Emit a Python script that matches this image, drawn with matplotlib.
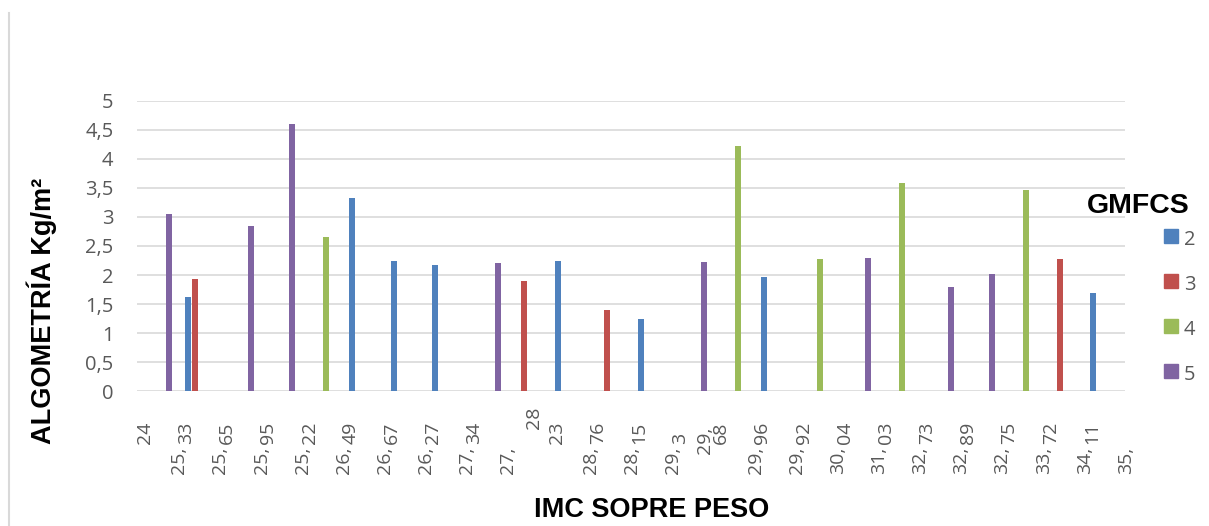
import matplotlib
matplotlib.use("Agg")
import matplotlib.pyplot as plt
import numpy as np
from matplotlib.patches import Rectangle
from matplotlib.lines import Line2D

# Category labels along the x axis (BMI values), one per category boundary
bmi_labels = ["24", "25,33", "25,65", "25,95", "25,22", "26,49", "26,67", "26,27",
              "27,34", "27,28", "23", "28,76", "28,15", "29,3", "29,68", "29,96",
              "29,92", "30,04", "31,03", "32,73", "32,89", "32,75", "33,72", "34,11", "35,"]

# Grip strength per GMFCS level (None = no value in that category)
series_names = ["2", "3", "4", "5"]
gmfcs_2 = [None, 1.62, None, None, None, 3.33, 2.24, 2.17, None, None, 2.24, None,
           1.25, None, None, 1.97, None, None, None, None, None, None, None, 1.69]
gmfcs_3 = [None, 1.93, None, None, None, None, None, None, None, 1.90, None, 1.40,
           None, None, None, None, None, None, None, None, None, None, 2.28, None]
gmfcs_4 = [None, None, None, None, 2.65, None, None, None, None, None, None, None,
           None, None, 4.22, None, 2.28, None, 3.58, None, None, 3.46, None, None]
gmfcs_5 = [3.05, None, 2.84, 4.60, None, None, None, None, 2.21, None, None, None,
           None, 2.22, None, None, None, 2.29, None, 1.79, 2.02, None, None, None]

y_ticks = [0, 0.5, 1, 1.5, 2, 2.5, 3, 3.5, 4, 4.5, 5]

colors = ["#4F81BD", "#C0504D", "#9BBB59", "#8064A2"]
GRAY_TXT = "#595959"
GRID = "#D9D9D9"
NUM_FONT = "Open Sans"
BOLD_FONT = "Liberation Sans"

W, H = 1209, 526
fig = plt.figure(figsize=(W / 100, H / 100), dpi=100)
fig.patch.set_facecolor("white")


def fx(px):
    return px / W


def fy(py):
    return 1 - py / H


ax_left, ax_right, ax_top, ax_bottom = 137, 1125, 100.7, 391.3
ax = fig.add_axes([fx(ax_left), fy(ax_bottom), fx(ax_right - ax_left),
                   (ax_bottom - ax_top) / H])

series = [gmfcs_2, gmfcs_3, gmfcs_4, gmfcs_5]
n_cat = len(gmfcs_2)
x = np.arange(n_cat)
slot = 0.177
bar_w = 0.146
for i, (vals, col) in enumerate(zip(series, colors)):
    v = np.array([np.nan if a is None else a for a in vals], dtype=float)
    ax.bar(x + (i - 1.5) * slot, v, width=bar_w, color=col, zorder=3,
           linewidth=0)

ax.set_xlim(-0.5, n_cat - 0.5)
ax.set_ylim(0, 5)
ax.set_yticks(y_ticks)
ax.set_yticklabels([f"{t:g}".replace(".", ",") for t in y_ticks],
                   fontfamily=NUM_FONT, fontsize=14.5, color=GRAY_TXT)
ax.tick_params(axis="y", length=0, pad=17)
ax.set_xticks([])
ax.grid(axis="y", color=GRID, linewidth=1.2, zorder=0)
for s in ax.spines.values():
    s.set_visible(False)

# Category labels: the part up to the comma sits lower, the rest above it
boundaries = np.arange(len(bmi_labels)) - 0.5
px_per_unit = (ax_right - ax_left) / n_cat
nudges = {9: {"upper": (18, 15)}, 14: {"lower": (-9, 20)}}
for k, (b, lab) in enumerate(zip(boundaries, bmi_labels)):
    if "," in lab:
        head, tail = lab.split(",", 1)
        lower, upper = head + ",", tail
    else:
        lower, upper = "", lab
    nd = nudges.get(k, {})
    if lower:
        dx, dy = nd.get("lower", (0, 0))
        ax.annotate(lower, xy=(b, 0), xycoords=("data", "axes fraction"),
                    xytext=((1 + dx) * 0.72, (-55 + dy) * 0.72),
                    textcoords="offset points", rotation=90, ha="center",
                    va="top", fontfamily=NUM_FONT, fontsize=14, color=GRAY_TXT)
    if upper:
        dx, dy = nd.get("upper", (0, 0))
        ax.annotate(upper, xy=(b, 0), xycoords=("data", "axes fraction"),
                    xytext=((8 + dx) * 0.72, (-53 + dy) * 0.72),
                    textcoords="offset points", rotation=90, ha="center",
                    va="bottom", fontfamily=NUM_FONT, fontsize=14,
                    color=GRAY_TXT)

# Axis titles
fig.text(fx(42), fy(311), "ALGOMETRÍA Kg/m²", rotation=90, ha="center",
         va="center", fontfamily=BOLD_FONT, fontweight="bold", fontsize=19.5,
         color="black")
fig.text(fx(652), fy(510), "IMC SOPRE PESO", ha="center", va="center",
         fontfamily=BOLD_FONT, fontweight="bold", fontsize=19.5, color="black")

# Legend
fig.text(fx(1087), fy(206), "GMFCS", ha="left", va="center",
         fontfamily=BOLD_FONT, fontweight="bold", fontsize=20.5, color="black")
row_y = [236, 281, 326, 371]
for name, col, ry in zip(series_names, colors, row_y):
    fig.add_artist(Rectangle((fx(1164), fy(ry + 7)), 14 / W, 14 / H,
                             transform=fig.transFigure, color=col))
    fig.text(fx(1184), fy(ry + 4), name, ha="left", va="center",
             fontfamily=NUM_FONT, fontsize=14.5, color=GRAY_TXT)

# Left frame edge
fig.add_artist(Line2D([fx(9), fx(9)], [fy(13), 0], transform=fig.transFigure,
                      color=GRID, linewidth=1.5))

fig.savefig("out.png", dpi=100, facecolor="white")
